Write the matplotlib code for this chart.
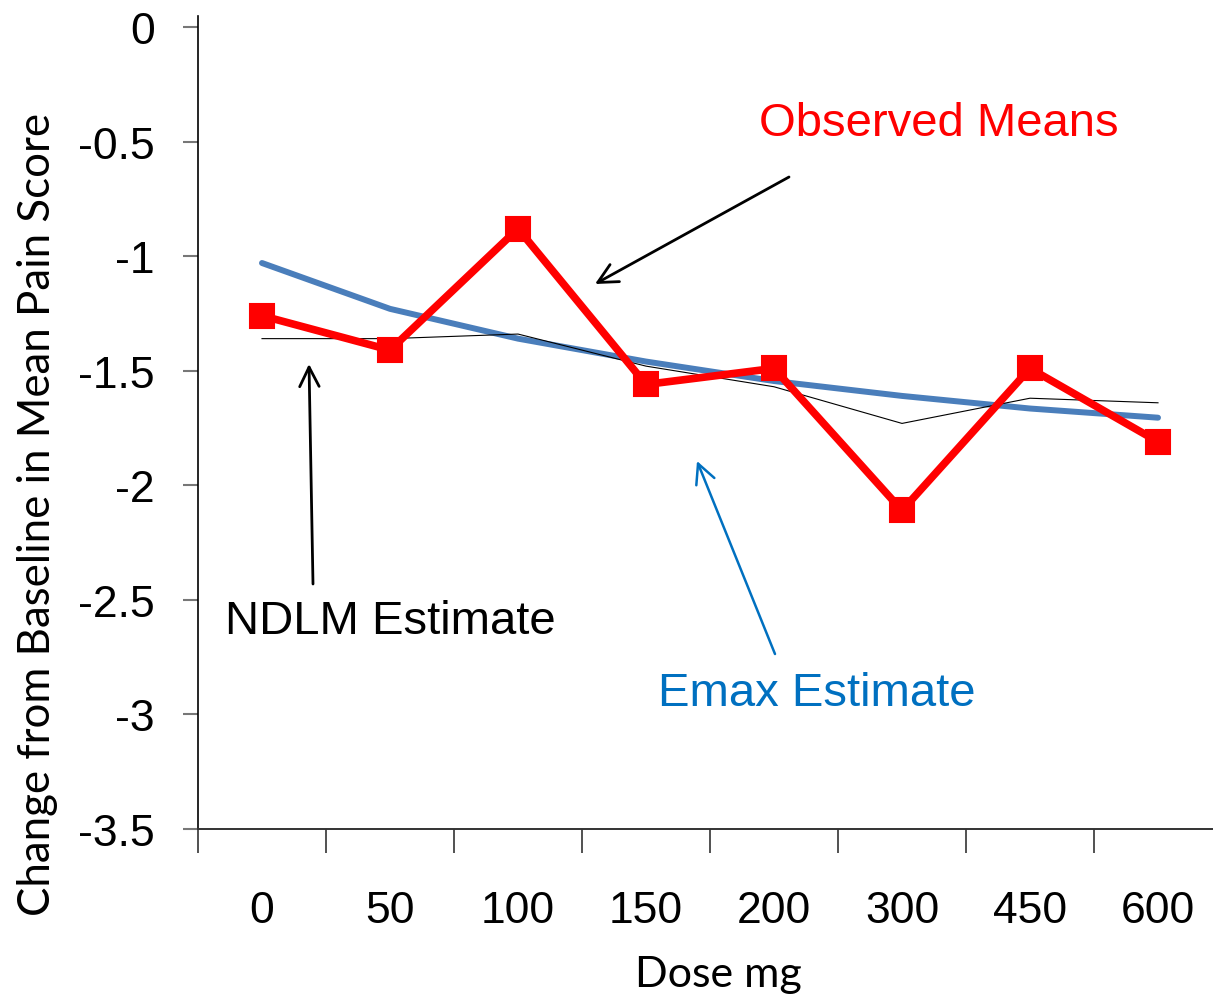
import matplotlib
matplotlib.use("Agg")
import matplotlib.pyplot as plt

doses = ["0", "50", "100", "150", "200", "300", "450", "600"]
observed = [-1.26, -1.41, -0.88, -1.56, -1.49, -2.11, -1.49, -1.81]
ndlm = [-1.36, -1.36, -1.34, -1.48, -1.57, -1.73, -1.62, -1.64]
emax = [-1.03, -1.23, -1.36, -1.46, -1.545, -1.61, -1.665, -1.705]
yticks = [0, -0.5, -1, -1.5, -2, -2.5, -3, -3.5]

W, H = 1213, 1003
fig = plt.figure(figsize=(W / 100, H / 100), dpi=100)
ax = fig.add_axes([198 / W, 1 - 830 / H, 1024 / W, (830 - 17) / H])

x = range(len(doses))
ax.plot(x, emax, color="#4A7EBB", lw=4.3, solid_joinstyle="round", solid_capstyle="round", zorder=2)
ax.plot(x, ndlm, color="black", lw=0.8, zorder=3)
ax.plot(x, observed, color="#FF0000", lw=5.5, marker="s", ms=17, mew=1.5, mec="#FF0000",
        solid_joinstyle="round", zorder=4)

ax.set_xlim(-0.5, 7.5)
ax.set_ylim(-3.5, 0.048)

ax.set_xticks(list(x))
ax.set_xticklabels(doses, fontsize=32, family="Liberation Sans")
ax.set_xticks([i - 0.5 for i in range(9)], minor=True)
ax.tick_params(axis="x", which="major", length=0, pad=44)
ax.tick_params(axis="x", which="minor", length=17, width=1.2, color="#333333")

ax.set_yticks(yticks)
ax.set_yticklabels([f"{v:g}" for v in yticks], fontsize=32, family="Liberation Sans")
ax.tick_params(axis="y", length=11, width=1.5, color="#777777", pad=20)

for s in ["top", "right"]:
    ax.spines[s].set_visible(False)
ax.spines["left"].set_linewidth(1.2)
ax.spines["bottom"].set_linewidth(1.4)
ax.spines["bottom"].set_color("#333333")

# axis titles
fig.text(38 / W, 1 - 514 / H, "Change from Baseline in Mean Pain Score", rotation=90,
         ha="center", va="center", fontsize=31.5, family="Lato")
fig.text(718 / W, 1 - 975 / H, "Dose mg", ha="center", va="center", fontsize=31, family="Lato")

# callouts
fig.text(939 / W, 1 - 124 / H, "Observed Means", color="#FF0000", ha="center", va="center",
         fontsize=34, family="Liberation Sans")
fig.text(390 / W, 1 - 622 / H, "NDLM Estimate", color="black", ha="center", va="center",
         fontsize=34, family="Liberation Sans")
fig.text(817 / W, 1 - 694 / H, "Emax Estimate", color="#0070C0", ha="center", va="center",
         fontsize=34, family="Liberation Sans")

def arrow(tail, head, color, lw):
    ax.annotate("", xy=(head[0], H - head[1]), xytext=(tail[0], H - tail[1]),
                xycoords="figure pixels", textcoords="figure pixels",
                arrowprops=dict(arrowstyle="->", color=color, lw=lw, mutation_scale=35,
                                shrinkA=0, shrinkB=0))

arrow((789, 178), (595, 285), "black", 2)
arrow((313, 585), (309, 365), "black", 2)
arrow((775, 655), (697, 462), "#0070C0", 1.8)

fig.savefig("out.png", dpi=100)
